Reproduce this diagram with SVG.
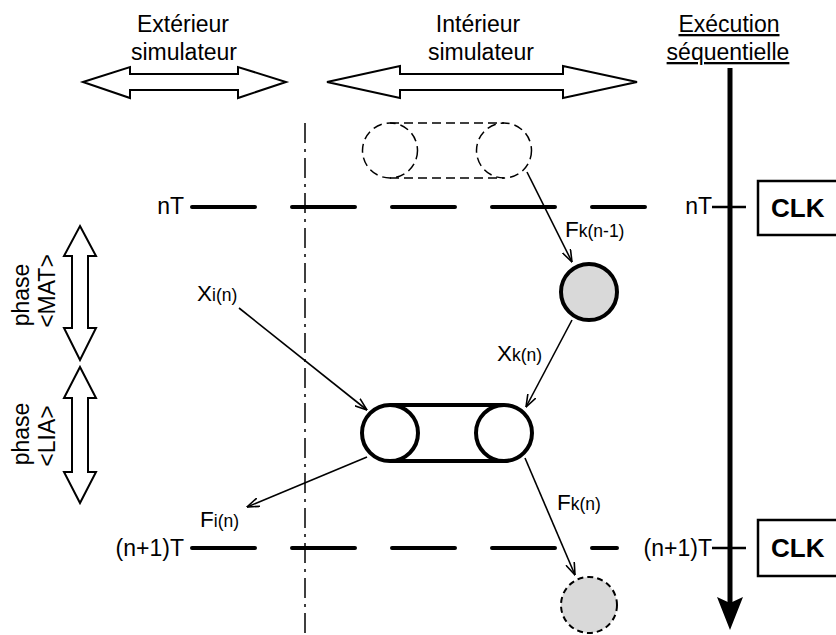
<svg xmlns="http://www.w3.org/2000/svg" width="836" height="635" viewBox="0 0 836 635">
<style>
text{font-family:"Liberation Sans",Arial,sans-serif;fill:#000}
.big{font-size:23px}
.lbl{font-size:22.5px}
.sub{font-size:17.5px}
.rot{font-size:23px}
.dbl{fill:#fff;stroke:#000;stroke-width:2;stroke-linejoin:miter}
.conn{stroke:#000;stroke-width:1.6;fill:none;marker-end:url(#ah)}
.tl{stroke:#000;stroke-width:4;stroke-linecap:round;stroke-dasharray:63 37;fill:none}
</style>
<defs>
<marker id="ah" viewBox="0 0 13 10" refX="12.5" refY="5" markerWidth="13" markerHeight="10" markerUnits="userSpaceOnUse" orient="auto">
<path d="M0,0.5 L12.5,5 L0,9.5" fill="none" stroke="#000" stroke-width="1.6"/>
</marker>
</defs>
<rect width="836" height="635" fill="#fff"/>

<g id="header-exterieur">
<text class="big" x="183" y="32" text-anchor="middle">Extérieur</text>
<text class="big" x="184" y="60" text-anchor="middle">simulateur</text>
<polygon class="dbl" points="83,82 130,67 130,74 238,74 238,67 286,82 238,98 238,90 130,90 130,98"/>
</g>
<g id="header-interieur">
<text class="big" x="478" y="32" text-anchor="middle">Intérieur</text>
<text class="big" x="481" y="60" text-anchor="middle">simulateur</text>
<polygon class="dbl" points="327,82 400,66 400,74 563,74 563,66 637,82 563,98 563,90 400,90 400,98"/>
</g>
<g id="header-execution">
<text class="big" x="729" y="32" text-anchor="middle" text-decoration="underline">Exécution</text>
<text class="big" x="728" y="60" text-anchor="middle" text-decoration="underline">séquentielle</text>
<line x1="730" y1="68" x2="730" y2="605" stroke="#000" stroke-width="5"/>
<polygon points="717,597 730,630 743,597 730,603" fill="#000"/>
</g>

<g id="boundary">
<line x1="305" y1="123" x2="305" y2="635" stroke="#000" stroke-width="1.5" stroke-dasharray="20 6 3 6"/>
</g>

<g id="time-nT">
<text class="big" x="184" y="214" text-anchor="end">nT</text>
<path class="tl" d="M192,207 H645"/>
<text class="big" x="712" y="214" text-anchor="end">nT</text>
<line x1="712" y1="207" x2="746" y2="207" stroke="#000" stroke-width="2.5"/>
</g>
<g id="time-n1T">
<text class="big" x="184" y="556" text-anchor="end">(n+1)T</text>
<path class="tl" d="M192,548 H617"/>
<text class="big" x="712" y="556" text-anchor="end">(n+1)T</text>
<line x1="712" y1="548" x2="746" y2="548" stroke="#000" stroke-width="2.5"/>
</g>

<g id="clk1">
<rect x="758" y="181" width="100" height="54" fill="#fff" stroke="#000" stroke-width="2.5"/>
<text x="771" y="217" font-size="26" font-weight="bold">CLK</text>
</g>
<g id="clk2">
<rect x="758" y="520" width="100" height="56" fill="#fff" stroke="#000" stroke-width="2.5"/>
<text x="771" y="557" font-size="26" font-weight="bold">CLK</text>
</g>

<g id="phase-mat">
<polygon class="dbl" points="80,226 96,256 88,256 88,328 96,328 80,360 64,328 72,328 72,256 64,256"/>
<text class="rot" transform="translate(29,295) rotate(-90)" text-anchor="middle">phase</text>
<text class="rot" transform="translate(55,291) rotate(-90)" text-anchor="middle">&lt;MAT&gt;</text>
</g>
<g id="phase-lia">
<polygon class="dbl" points="80,367 96,398 88,398 88,472 96,472 80,503 64,472 72,472 72,398 64,398"/>
<text class="rot" transform="translate(29,434) rotate(-90)" text-anchor="middle">phase</text>
<text class="rot" transform="translate(55,436) rotate(-90)" text-anchor="middle">&lt;LIA&gt;</text>
</g>

<g id="pill-prev" fill="none" stroke="#000" stroke-width="1.5" stroke-dasharray="9 5">
<line x1="390" y1="123" x2="504" y2="123"/>
<line x1="390" y1="178" x2="504" y2="178"/>
<circle cx="390" cy="150.5" r="27.5"/>
<circle cx="504" cy="150.5" r="27.5"/>
</g>
<g id="pill-cur" fill="none" stroke="#000" stroke-width="4">
<line x1="390" y1="405" x2="504" y2="405"/>
<line x1="390" y1="461" x2="504" y2="461"/>
<circle cx="390" cy="433" r="28"/>
<circle cx="504" cy="433" r="28"/>
</g>
<g id="node-k">
<circle cx="589" cy="292" r="28" fill="#d9d9d9" stroke="#000" stroke-width="4"/>
</g>
<g id="node-k-next">
<circle cx="589" cy="605" r="28" fill="#d9d9d9" stroke="#000" stroke-width="2" stroke-dasharray="6 4"/>
</g>

<g id="connectors">
<line class="conn" x1="527" y1="172" x2="572" y2="262"/>
<line class="conn" x1="572" y1="320" x2="526" y2="407"/>
<line class="conn" x1="239" y1="308" x2="367" y2="410"/>
<line class="conn" x1="367" y1="457" x2="247" y2="507"/>
<line class="conn" x1="525" y1="458" x2="575" y2="575"/>
</g>

<g id="labels">
<text class="lbl" x="565" y="237">F<tspan class="sub">k(n-1)</tspan></text>
<text class="lbl" x="197" y="301">X<tspan class="sub">i(n)</tspan></text>
<text class="lbl" x="497" y="361">X<tspan class="sub">k(n)</tspan></text>
<text class="lbl" x="200" y="527">F<tspan class="sub">i(n)</tspan></text>
<text class="lbl" x="557" y="510">F<tspan class="sub">k(n)</tspan></text>
</g>
</svg>
